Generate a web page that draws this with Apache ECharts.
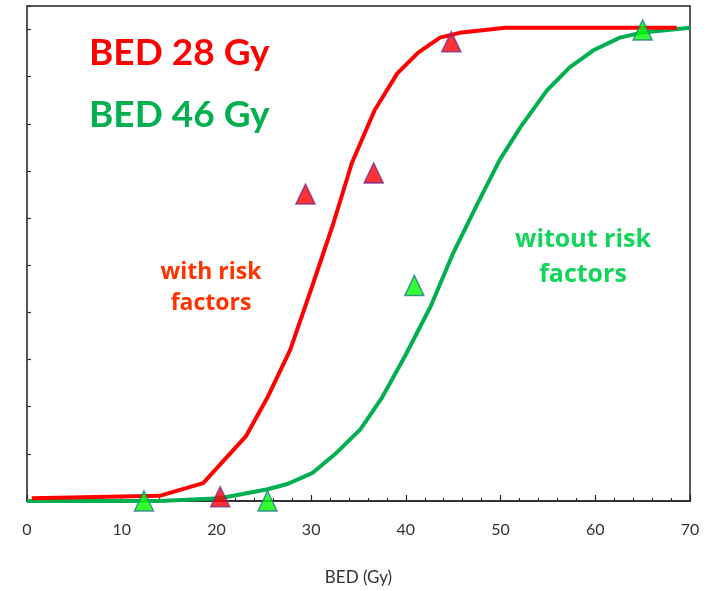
<!DOCTYPE html>
<html>
<head>
<meta charset="utf-8">
<script src="https://cdn.jsdelivr.net/npm/echarts@6/dist/echarts.min.js"></script>
<style>html,body{margin:0;padding:0;background:#fff}#c{width:718px;height:591px}</style>
</head>
<body>
<div id="c"></div>
<script>
// Curve "with risk factors" (BED 28 Gy)
const redCurveX = [0.5, 14.0, 18.6, 23.1, 25.4, 27.8, 30.1, 32.3, 34.3, 36.7, 39.1, 41.3, 43.6, 45.9, 50.5, 68.6];
const redCurveY = [0.6, 1.1, 3.8, 13.7, 22.0, 32.1, 45.5, 58.6, 71.7, 82.9, 90.7, 95.1, 98.3, 99.4, 100.4, 100.4];
// Curve "witout risk factors" (BED 46 Gy)
const greenCurveX = [0, 14.0, 20.4, 25.4, 27.5, 30.1, 32.5, 35.2, 37.5, 39.9, 42.6, 45.0, 47.5, 49.9, 52.1, 54.9, 57.3, 59.8, 62.6, 65.0, 70.0];
const greenCurveY = [0, 0, 0.6, 2.5, 3.6, 5.9, 9.9, 15.2, 22.0, 30.7, 41.2, 52.6, 62.8, 72.3, 79.3, 87.1, 92.0, 95.6, 98.3, 99.4, 100.4];
// Observed points
const redPointsX = [20.4, 29.4, 36.6, 44.8];
const redPointsY = [0.9, 65.1, 69.6, 97.4];
const greenPointsX = [12.35, 25.4, 40.9, 65.0];
const greenPointsY = [0, 0, 45.7, 99.9];
// Axis
const xTickLabels = ['0', '10', '20', '30', '40', '50', '60', '70'];
const xName = 'BED (Gy)';
const texts = ['BED 28 Gy', 'BED 46 Gy', 'with risk', 'factors', 'witout risk', 'factors'];

const zip = (a, b) => a.map((v, i) => [v, b[i]]);
const chart = echarts.init(document.getElementById('c'), null, {renderer: 'canvas'});
const labelFont = 'Lato, "Open Sans", sans-serif';
chart.setOption({
  animation: false,
  grid: {left: 27, right: 28, top: 6, bottom: 89, show: true, borderColor: '#222', borderWidth: 1.5},
  xAxis: {
    type: 'value', min: 0, max: 70, interval: 10,
    name: xName, nameLocation: 'middle', nameGap: 68,
    nameTextStyle: {fontSize: 17, color: '#333', fontFamily: labelFont},
    axisLine: {show: true, lineStyle: {color: '#333', width: 2}},
    axisTick: {show: true, inside: true, length: 6, lineStyle: {color: '#222', width: 1.2}},
    minorTick: {show: true, splitNumber: 5, length: 3, lineStyle: {color: '#222', width: 1}},
    splitLine: {show: false},
    axisLabel: {fontSize: 16, color: '#333', margin: 21, fontFamily: labelFont,
      formatter: v => xTickLabels[Math.round(v / 10)] ?? ''}
  },
  yAxis: {
    type: 'value', min: 0, max: 105, interval: 10,
    axisLine: {show: true, lineStyle: {color: '#555', width: 2}},
    axisTick: {show: true, inside: true, length: 4, lineStyle: {color: '#333', width: 1.2}},
    axisLabel: {show: false},
    splitLine: {show: false}
  },
  series: [
    {type: 'line', data: zip(greenCurveX, greenCurveY), symbol: 'none', smooth: false,
      lineStyle: {color: '#00B050', width: 4}, z: 2},
    {type: 'line', data: zip(redCurveX, redCurveY), symbol: 'none', smooth: false,
      lineStyle: {color: '#FF0000', width: 4}, z: 3},
    {type: 'scatter', data: zip(redPointsX, redPointsY), symbol: 'triangle', symbolSize: [19, 20],
      itemStyle: {color: '#FF0000', borderColor: '#7B2D8E', borderWidth: 1.5}, z: 5},
    {type: 'scatter', data: zip(greenPointsX, greenPointsY), symbol: 'triangle', symbolSize: [19, 20],
      itemStyle: {color: '#00FF00', borderColor: '#1F7A8C', borderWidth: 1.5}, z: 5}
  ],
  graphic: [
    {type: 'text', left: 89, top: 35, style: {text: texts[0], fill: '#FF0000',
      font: 'bold 37px Lato, "Open Sans", sans-serif'}, z: 10},
    {type: 'text', left: 89, top: 97, style: {text: texts[1], fill: '#00B050',
      font: 'bold 37px Lato, "Open Sans", sans-serif'}, z: 10},
    {type: 'text', x: 211, y: 288, style: {text: texts[2] + '\n' + texts[3], fill: '#FF3300',
      align: 'center', verticalAlign: 'middle', lineHeight: 31,
      font: 'bold 23px "Open Sans", sans-serif'}, z: 10},
    {type: 'text', x: 583, y: 257, style: {text: texts[4] + '\n' + texts[5], fill: '#11D65B',
      align: 'center', verticalAlign: 'middle', lineHeight: 35,
      font: 'bold 25px "Open Sans", sans-serif'}, z: 10}
  ]
});
</script>
</body>
</html>
